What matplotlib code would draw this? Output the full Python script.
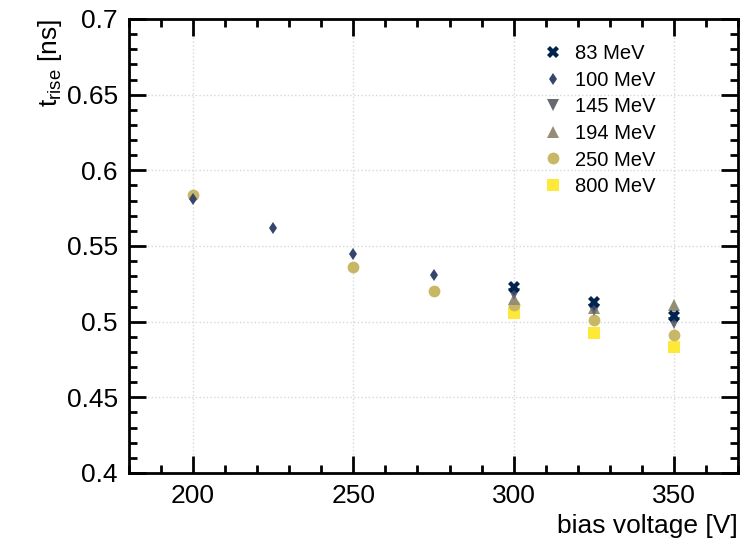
import matplotlib
matplotlib.use("Agg")
import matplotlib.pyplot as plt
from matplotlib.ticker import MultipleLocator
import numpy as np

plt.rcParams['font.family'] = ['Liberation Sans', 'DejaVu Sans']
plt.rcParams['mathtext.fontset'] = 'custom'
plt.rcParams['mathtext.rm'] = 'Liberation Sans'
plt.rcParams['mathtext.it'] = 'Liberation Sans'

# rise time vs bias voltage for each beam energy
labels = ["83 MeV", "100 MeV", "145 MeV", "194 MeV", "250 MeV", "800 MeV"]

v_83 = [300, 325, 350]
t_83 = [0.523, 0.513, 0.504]

v_100 = [200, 225, 250, 275, 300, 325, 350]
t_100 = [0.581, 0.562, 0.545, 0.531, 0.521, 0.511, 0.503]

v_145 = [300, 325, 350]
t_145 = [0.518, 0.508, 0.499]

v_194 = [300, 325, 350]
t_194 = [0.515, 0.509, 0.511]

v_250 = [200, 250, 275, 300, 325, 350]
t_250 = [0.584, 0.536, 0.520, 0.511, 0.501, 0.491]

v_800 = [300, 325, 350]
t_800 = [0.506, 0.4925, 0.483]

series = [(v_83, t_83), (v_100, t_100), (v_145, t_145),
          (v_194, t_194), (v_250, t_250), (v_800, t_800)]
markers = ["X", "d", "v", "^", "o", "s"]
sizes = [8.5, 6.5, 8.5, 8.5, 8.5, 8.5]
colors = plt.cm.cividis(np.linspace(0.0, 1.0, 6))

fig = plt.figure(figsize=(7.55, 5.47), dpi=100)
ax = fig.add_axes([129 / 755, 1 - 473 / 547, 609 / 755, 454 / 547])

# draw in reverse so the low-energy points sit on top
for i in reversed(range(6)):
    v, t = series[i]
    ax.plot(v, t, linestyle="none", marker=markers[i], markersize=sizes[i],
            color=colors[i], markeredgewidth=0, label=labels[i], zorder=3 + (6 - i) * 0.1)

ax.set_xlim(180, 370)
ax.set_ylim(0.4, 0.7)
ax.xaxis.set_major_locator(MultipleLocator(50))
ax.xaxis.set_minor_locator(MultipleLocator(10))
ax.yaxis.set_major_locator(MultipleLocator(0.05))
ax.yaxis.set_minor_locator(MultipleLocator(0.01))
ax.set_yticks([0.4, 0.45, 0.5, 0.55, 0.6, 0.65, 0.7])
ax.set_yticklabels(["0.4", "0.45", "0.5", "0.55", "0.6", "0.65", "0.7"])

ax.tick_params(which="both", direction="in", top=True, right=True, width=2)
ax.tick_params(which="major", length=12, labelsize=19, pad=8)
ax.tick_params(which="minor", length=6)
for s in ax.spines.values():
    s.set_linewidth(2)

ax.grid(True, which="major", linestyle=":", color="#d8d8d8", linewidth=1)
ax.set_axisbelow(True)

ax.set_xlabel("bias voltage [V]", fontsize=19, loc="right", labelpad=4)
ax.set_ylabel(r"t$_{\mathrm{rise}}$ [ns]", fontsize=19, loc="top", labelpad=2)

handles, leg_labels = ax.get_legend_handles_labels()
order = [leg_labels.index(l) for l in labels]
ax.legend([handles[k] for k in order], labels, loc="upper right", frameon=False,
          fontsize=14.5, bbox_to_anchor=(0.895, 0.985), handletextpad=0.5,
          labelspacing=0.38, handlelength=1.2)

fig.savefig("out.png", dpi=100)
